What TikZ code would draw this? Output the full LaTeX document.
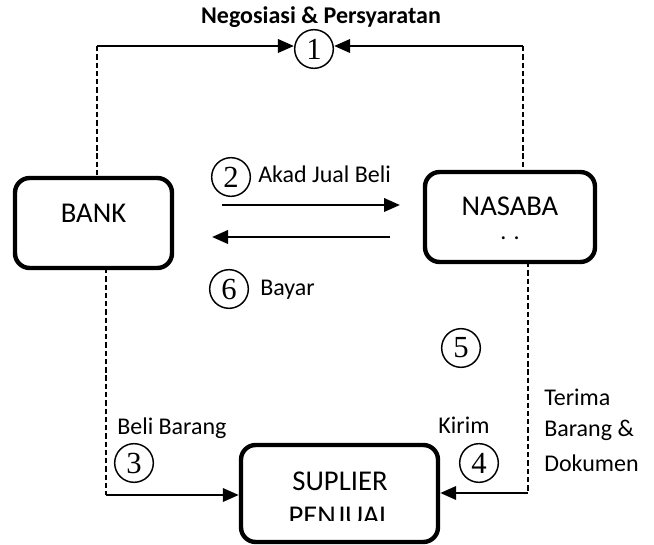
\documentclass[tikz,border=0pt]{standalone}
\usepackage{fontspec}
\setmainfont{Carlito}
\newfontfamily\numfont{Liberation Serif}
\usetikzlibrary{arrows.meta}
\tikzset{
  boxnode/.style={draw, line width=3.3pt, rounded corners=11pt, inner sep=0pt},
  numcirc/.style={draw, circle, line width=1.1pt, minimum size=29pt, inner sep=0pt, font=\numfont\fontsize{23}{23}\selectfont},
  lbl/.style={inner sep=0pt, font=\fontsize{18}{20}\selectfont},
  boxtxt/.style={inner sep=0pt, font=\fontsize{21.5}{24}\selectfont},
  solidarr/.style={line width=2pt, -{Triangle[length=12pt,width=10pt]}},
  dashln/.style={line width=1.2pt, dash pattern=on 4pt off 2.2pt},
}
\begin{document}
\begin{tikzpicture}[x=0.75pt,y=-0.75pt]
\useasboundingbox (0,0) rectangle (654,545);
% boxes
\node[boxnode, minimum width=157*0.75pt, minimum height=90*0.75pt] (bank) at (93.5,223) {};
\node[boxnode, minimum width=170*0.75pt, minimum height=90*0.75pt] (nasaba) at (510,217) {};
\node[boxnode, minimum width=197*0.75pt, minimum height=97*0.75pt] (suplier) at (339.5,493.5) {};
\node[boxtxt] (banktxt) at (93.5,213) {BANK};
\node[boxtxt] (nasabatxt) at (510,206) {NASABA};
\node[lbl] (nasabadots) at (510,238) {. .};
\node[boxtxt] (supliertxt) at (340,481) {SUPLIER};
\begin{scope}
\clip (240,445) rectangle (437,520.5);
\node[boxtxt] (penjualtxt) at (340,516) {PENJUAL};
\end{scope}
% title and 1
\node[lbl, font=\bfseries\fontsize{18}{20}\selectfont] (title) at (321,17) {Negosiasi \& Persyaratan};
\node[numcirc] (n1) at (314,49) {1};
\coordinate (tl) at (97,46);
\coordinate (tr) at (523,46);
\draw[dashln] (tl) -- (97,178);
\draw[dashln] (tr) -- (523,172);
\draw[solidarr] (tl) -- (n1.west |- tl);
\draw[solidarr] (tr) -- (n1.east |- tr);
% middle
\coordinate (a2s) at (222,205);
\coordinate (a2e) at (400,205);
\coordinate (a6s) at (390,237);
\coordinate (a6e) at (212,237);
\draw[solidarr] (a2s) -- (a2e);
\draw[solidarr] (a6s) -- (a6e);
\node[numcirc] (n2) at (231,177) {2};
\node[lbl, anchor=west] (akad) at (258,174) {Akad Jual Beli};
\node[numcirc] (n6) at (229,289) {6};
\node[lbl, anchor=west] (bayar) at (260,290) {Bayar};
\node[numcirc] (n5) at (461,348) {5};
% lower left
\coordinate (bl) at (106,495);
\draw[dashln] (106,268) -- (bl);
\draw[solidarr] (bl) -- (suplier.west |- bl);
\node[lbl, anchor=west] (beli) at (117,428) {Beli Barang};
\node[numcirc] (n3) at (134,463) {3};
% lower right
\coordinate (br) at (528,493);
\draw[dashln] (528,262) -- (br);
\draw[solidarr] (br) -- (suplier.east |- br);
\node[lbl] (kirim) at (464,425) {Kirim};
\node[numcirc] (n4) at (479,463) {4};
\node[lbl, anchor=west] (t1) at (544,397) {Terima};
\node[lbl, anchor=west] (t2) at (544,430) {Barang \&};
\node[lbl, anchor=west] (t3) at (544,463) {Dokumen};
\end{tikzpicture}
\end{document}
